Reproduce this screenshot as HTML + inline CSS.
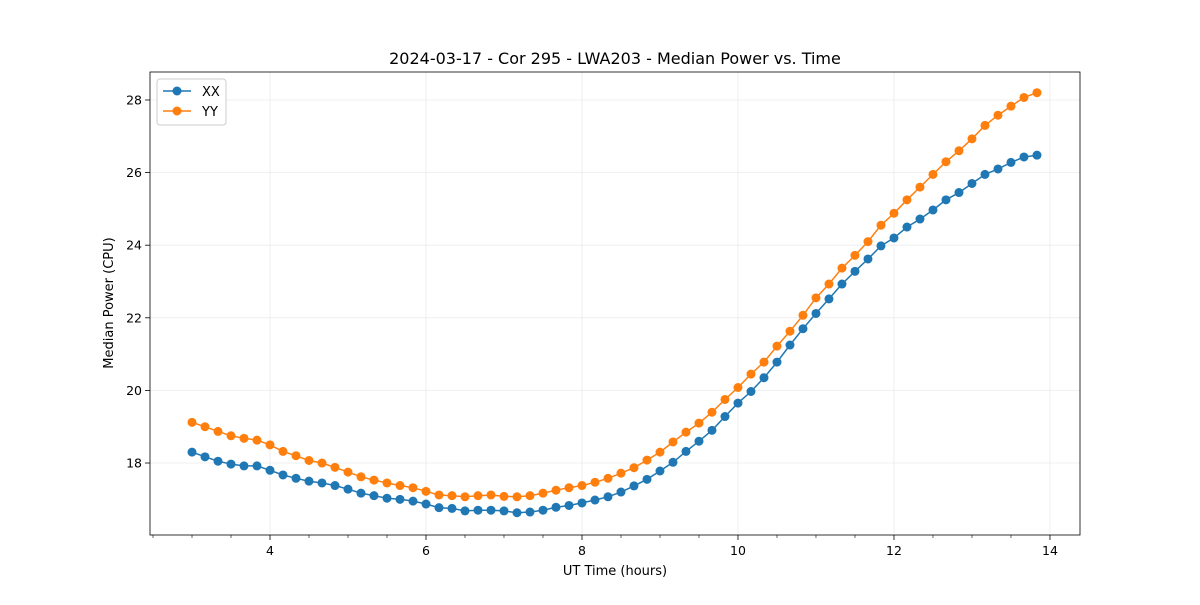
<!DOCTYPE html>
<html><head><meta charset="utf-8"><style>
body{margin:0;background:#fff}
svg{font-family:"DejaVu Sans","Liberation Sans",sans-serif}
</style></head><body>
<svg id="chart" width="1200" height="600" xmlns="http://www.w3.org/2000/svg">
<text x="615" y="64" font-size="16" text-anchor="middle">2024-03-17 - Cor 295 - LWA203 - Median Power vs. Time</text>
<text x="615" y="575" font-size="13" text-anchor="middle">UT Time (hours)</text>
<text transform="translate(113,303) rotate(-90)" font-size="13" text-anchor="middle">Median Power (CPU)</text>
<g id="grid"></g><g id="series"></g><g id="axes"></g>
</svg>
<script>
const xTicks=[4,6,8,10,12,14];
const yTicks=[18,20,22,24,26,28];
const startHour=3, stepHour=1/6;
const xxValues=[18.3,18.17,18.05,17.97,17.92,17.92,17.8,17.67,17.58,17.5,17.45,17.38,17.28,17.17,17.1,17.03,17.0,16.95,16.87,
16.77,16.75,16.68,16.7,16.7,16.68,
16.63,16.65,16.7,16.78,16.83,16.9,
16.98,17.07,17.2,17.37,17.55,17.78,
18.02,18.32,18.6,18.9,19.28,19.65,
19.97,20.35,20.78,21.25,21.7,22.12,
22.52,22.93,23.28,23.62,23.98,24.2,
24.5,24.72,24.97,25.25,25.45,25.7,
25.95,26.1,26.28,26.43,26.48];
const yyValues=[19.12,19.0,18.87,18.75,18.68,18.63,18.5,18.32,18.2,18.07,18.0,17.88,17.75,17.62,17.53,17.45,17.38,17.32,17.22,
17.12,17.1,17.07,17.1,17.12,17.08,
17.07,17.1,17.17,17.25,17.32,17.38,
17.47,17.58,17.72,17.87,18.08,18.3,
18.58,18.85,19.1,19.4,19.75,20.08,
20.45,20.78,21.22,21.63,22.07,22.55,
22.93,23.37,23.72,24.1,24.55,24.88,
25.25,25.6,25.95,26.3,26.6,26.93,
27.3,27.58,27.83,28.07,28.2];
const L=150,R=1080,T=72,B=535;
const xMin=2.4615,xMax=14.385,yMin=16.017,yMax=28.771;
const sx=v=>L+(v-xMin)/(xMax-xMin)*(R-L);
const sy=v=>B-(v-yMin)/(yMax-yMin)*(B-T);
const NS="http://www.w3.org/2000/svg";
function mk(tag,attrs,parent){const e=document.createElementNS(NS,tag);for(const k in attrs)e.setAttribute(k,attrs[k]);parent.appendChild(e);return e;}
const grid=document.getElementById('grid'),axes=document.getElementById('axes'),ser=document.getElementById('series');
xTicks.forEach(t=>{const x=sx(t);
 const g=mk('line',{x1:x,x2:x,y1:T,y2:B,stroke:'#ebebeb','stroke-width':0.8},grid);
 
 mk('line',{x1:x,x2:x,y1:B,y2:B+5,stroke:'#000','stroke-width':0.8},axes);
 const tx=mk('text',{x:x,y:B+20,'font-size':12.5,'text-anchor':'middle'},axes);tx.textContent=t;
 });
for(let m=2.5;m<=14.3;m+=0.5){if(Number.isInteger(m)&&m%2===0)continue;const x=sx(m);
 mk('line',{x1:x,x2:x,y1:B,y2:B+3,stroke:'#000','stroke-width':0.6},axes);}
yTicks.forEach(t=>{const y=sy(t);
 const g=mk('line',{x1:L,x2:R,y1:y,y2:y,stroke:'#ebebeb','stroke-width':0.8},grid);
 
 mk('line',{x1:L-5,x2:L,y1:y,y2:y,stroke:'#000','stroke-width':0.8},axes);
 const tx=mk('text',{x:L-8,y:y+4.5,'font-size':12.5,'text-anchor':'end'},axes);tx.textContent=t;
 });
const frame=mk('rect',{x:L,y:T,width:R-L,height:B-T,fill:'none',stroke:'#000','stroke-width':0.8},axes);

function drawSeries(vals,color,name){
 const pts=vals.map((v,i)=>sx(startHour+i*stepHour).toFixed(1)+','+sy(v).toFixed(1)).join(' ');
 const pl=mk('polyline',{points:pts,fill:'none',stroke:color,'stroke-width':1.5},ser);
 
 vals.forEach((v,i)=>{const c=mk('circle',{cx:sx(startHour+i*stepHour),cy:sy(v),r:4.5,fill:color},ser);
  });
}
drawSeries(xxValues,'#1f77b4','xx');
drawSeries(yyValues,'#ff7f0e','yy');
const lg=mk('g',{},axes);

mk('rect',{x:157,y:79,width:69,height:46,rx:3,fill:'#fff',stroke:'#ccc','stroke-width':1},lg);
[['XX','#1f77b4',91],['YY','#ff7f0e',111]].forEach(([lab,c,y])=>{
 const e=mk('g',{},lg);
 mk('line',{x1:163,x2:191,y1:y,y2:y,stroke:c,'stroke-width':1.5},e);
 mk('circle',{cx:177,cy:y,r:4.5,fill:c},e);
 const t=mk('text',{x:202,y:y+5,'font-size':13},e);t.textContent=lab;});
</script>
</body></html>
